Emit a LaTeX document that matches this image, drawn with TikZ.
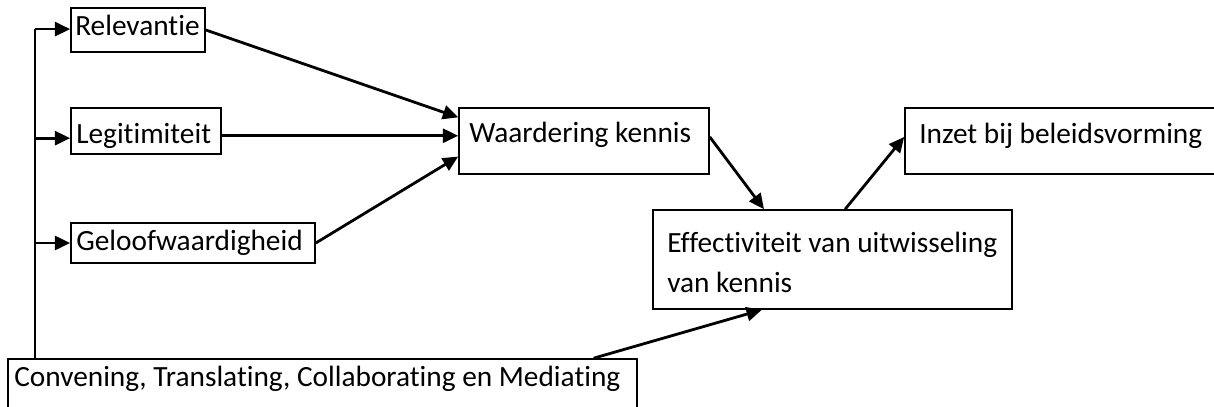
\documentclass[tikz,border=0pt]{standalone}
\usepackage{fontspec}
\setmainfont{Carlito}[Ligatures={NoCommon,NoRare,NoContextual}]
\usetikzlibrary{arrows.meta,fit,calc}
\begin{document}
\begin{tikzpicture}[x=0.75pt,y=-0.75pt,
  box/.style={draw, line width=1.2pt, inner sep=0pt},
  lbl/.style={anchor=base west, inner sep=0pt, align=left, font=\fontsize{22}{30}\selectfont},
  ln/.style={line width=2.1pt},
  arr/.style={line width=2.1pt, -{Triangle[length=11.5pt,width=10.5pt]}}]
\useasboundingbox (0,0) rectangle (1214,407);
\clip (0,0) rectangle (1214,407);

% boxes
\node[box, fit={(71,8) (205,52)}] (rel) {};
\node[box, fit={(71,108) (221,154)}] (leg) {};
\node[box, fit={(71,223) (315,263)}] (gel) {};
\node[box, fit={(459,108) (709,174)}] (waard) {};
\node[box, fit={(653,210) (1012,309)}] (eff) {};
\node[box, fit={(905,108) (1240,174)}] (inzet) {};
\node[box, fit={(8,359) (637,440)}] (conv) {};

% texts
\node[lbl] (relT) at (75,36) {Relevantie};
\node[lbl] (legT) at (76,143) {Legitimiteit};
\node[lbl] (gelT) at (76,250) {Geloofwaardigheid};
\node[lbl] (waardT) at (469,142) {Waardering kennis};
\node[lbl] (inzetT) at (919,143) {Inzet bij beleidsvorming};
\node[lbl] (effT) at (667,292) {Effectiviteit van uitwisseling\\van kennis};
\node[lbl] (convT) at (14,386) {Convening, Translating, Collaborating en Mediating};

% attachment points
\coordinate (spine) at (35,0);
\coordinate (relIn) at ($(rel.north west)!0.48!(rel.south west)$);
\coordinate (legIn) at ($(leg.north west)!0.65!(leg.south west)$);
\coordinate (gelIn) at (gel.west);
\coordinate (legOut) at ($(leg.north east)!0.6!(leg.south east)$);
\coordinate (waIn1) at ($(waard.north west)!0.15!(waard.south west)$);
\coordinate (waIn3) at ($(waard.north west)!0.73!(waard.south west)$);
\coordinate (waOut) at ($(waard.north east)!0.44!(waard.south east)$);
\coordinate (effIn1) at ($(eff.north west)!0.31!(eff.north east)$);
\coordinate (effOut) at ($(eff.north west)!0.535!(eff.north east)$);
\coordinate (inzIn) at ($(inzet.north west)!0.44!(inzet.south west)$);
\coordinate (convOut) at ($(conv.north west)!0.93!(conv.north east)$);
\coordinate (effIn2) at ($(eff.south west)!0.304!(eff.south east)$);

% spine
\draw[ln] (relIn -| spine) -- (conv.north -| spine);
\draw[arr] (relIn -| spine) -- (relIn);
\draw[arr] (legIn -| spine) -- (legIn);
\draw[arr] (gelIn -| spine) -- (gelIn);

% into Waardering
\draw[arr] (rel.east) -- (waIn1);
\draw[arr] (legOut) -- (legOut -| waard.west);
\draw[arr] (gel.east) -- (waIn3);

% others
\draw[arr] (waOut) -- (effIn1);
\draw[arr] (effOut) -- (inzIn);
\draw[arr] (convOut) -- (effIn2);
\end{tikzpicture}
\end{document}
